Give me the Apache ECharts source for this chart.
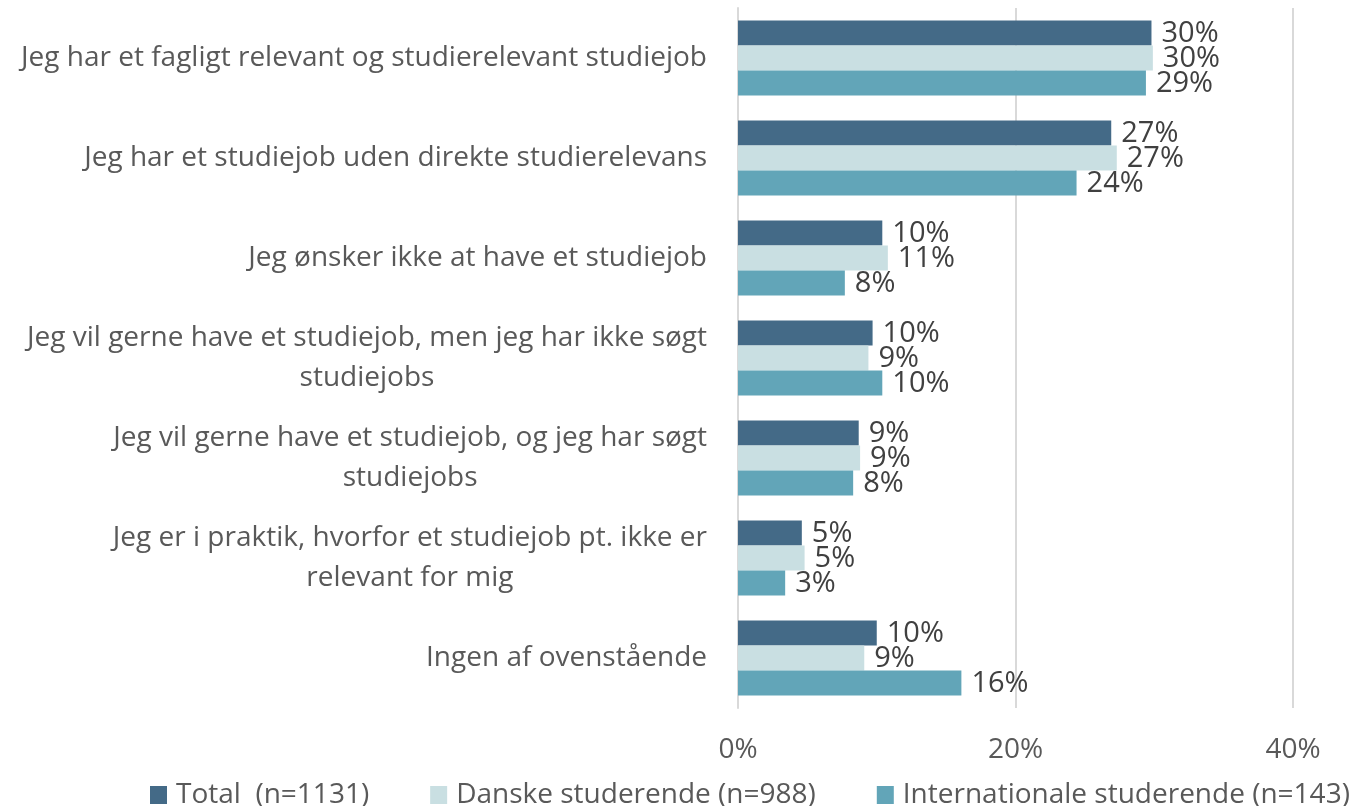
<!DOCTYPE html>
<html>
<head>
<meta charset="utf-8">
<script src="https://cdn.jsdelivr.net/npm/echarts@6/dist/echarts.min.js"></script>
<style>
  html, body { margin: 0; padding: 0; background: #ffffff; }
  #chart { width: 1353px; height: 806px; }
</style>
</head>
<body>
<div id="chart"></div>
<script>
// Answer categories (top to bottom)
const categories = [
  'Jeg har et fagligt relevant og studierelevant studiejob',
  'Jeg har et studiejob uden direkte studierelevans',
  'Jeg ønsker ikke at have et studiejob',
  'Jeg vil gerne have et studiejob, men jeg har ikke søgt\nstudiejobs',
  'Jeg vil gerne have et studiejob, og jeg har søgt\nstudiejobs',
  'Jeg er i praktik, hvorfor et studiejob pt. ikke er\nrelevant for mig',
  'Ingen af ovenstående'
];

// Share of respondents (%)
const totalValues = [29.8, 26.9, 10.4, 9.7, 8.7, 4.6, 10.0];
const danskeValues = [29.9, 27.3, 10.8, 9.4, 8.8, 4.8, 9.1];
const internationaleValues = [29.4, 24.4, 7.7, 10.4, 8.3, 3.4, 16.1];

const seriesNames = [
  'Total  (n=1131)',
  'Danske studerende (n=988)',
  'Internationale studerende (n=143)'
];
const seriesColors = ['#446a87', '#c9dfe2', '#62a5b8'];

const xTicks = [0, 20, 40];

const FONT = "'Open Sans', sans-serif";
const SIZE = 28;

const chart = echarts.init(document.getElementById('chart'), null, { renderer: 'canvas' });

function barSeries(name, data, color) {
  return {
    name: name,
    type: 'bar',
    data: data,
    barGap: '0%',
    barCategoryGap: '25%',
    itemStyle: { color: color },
    label: {
      show: true,
      position: 'right',
      distance: 10,
      color: '#404040',
      fontFamily: FONT,
      fontSize: 29,
      offset: [0, 1],
      formatter: p => Math.round(p.value) + '%'
    },
    emphasis: { disabled: true }
  };
}

chart.setOption({
  animation: false,
  backgroundColor: '#ffffff',
  textStyle: { fontFamily: FONT },
  grid: { left: 738, right: 60, top: 8, bottom: 98, containLabel: false },
  legend: {
    left: 150,
    top: 781,
    padding: 0,
    itemWidth: 17,
    itemHeight: 18,
    itemGap: 61,
    icon: 'rect',
    textStyle: { color: '#595959', fontSize: SIZE, fontFamily: FONT, padding: [0, 0, 0, 4] },
    data: seriesNames
  },
  xAxis: {
    type: 'value',
    min: 0,
    max: 40,
    interval: 20,
    axisLine: { show: false },
    axisTick: { show: false },
    splitLine: { show: true, lineStyle: { color: '#d9d9d9', width: 2 } },
    axisLabel: {
      margin: 28,
      color: '#595959',
      fontSize: SIZE,
      fontFamily: FONT,
      formatter: v => (xTicks.indexOf(v) >= 0 ? v + '%' : '')
    }
  },
  yAxis: {
    type: 'category',
    inverse: true,
    data: categories,
    axisLine: { show: true, lineStyle: { color: '#d9d9d9', width: 2 } },
    axisTick: { show: false },
    axisLabel: {
      margin: 31,
      color: '#595959',
      fontSize: SIZE,
      fontFamily: FONT,
      lineHeight: 40,
      formatter: v => v.split('\n').map(l => '{c|' + l + '}').join('\n'),
      rich: {
        c: { align: 'center', fontSize: SIZE, fontFamily: FONT, color: '#595959', lineHeight: 40 }
      }
    }
  },
  series: [
    barSeries(seriesNames[0], totalValues, seriesColors[0]),
    barSeries(seriesNames[1], danskeValues, seriesColors[1]),
    barSeries(seriesNames[2], internationaleValues, seriesColors[2])
  ]
});
</script>
</body>
</html>
